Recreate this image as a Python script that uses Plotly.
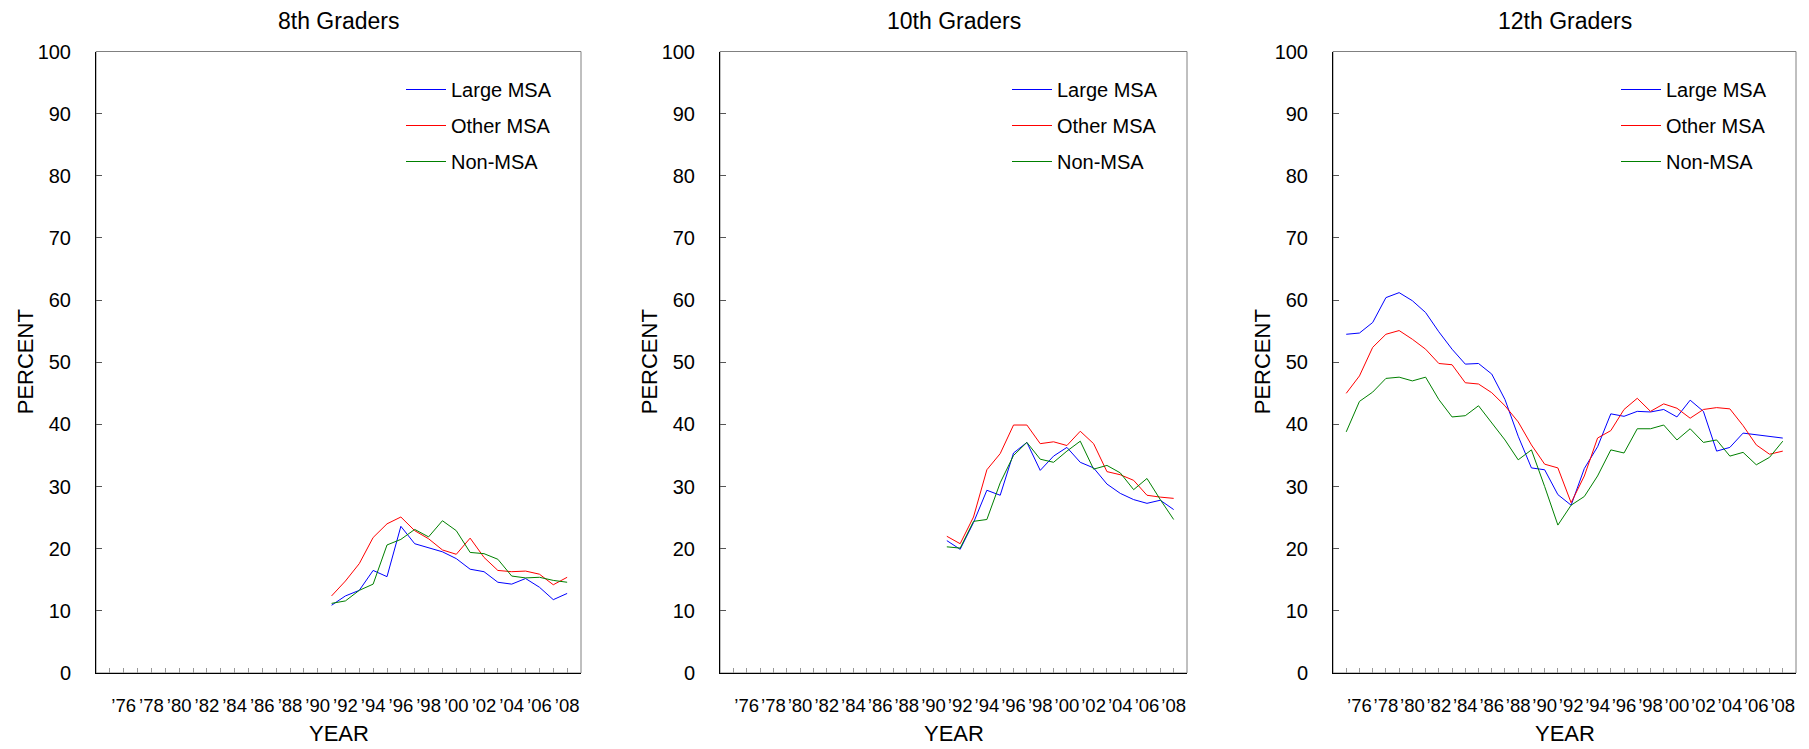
import plotly.graph_objects as go

# ---------------- data ----------------
years_8_10 = list(range(1991, 2009))
years_12 = list(range(1975, 2009))

g8_large = [10.9, 12.4, 13.3, 16.5, 15.5, 23.6, 20.8, 20.1, 19.5, 18.4, 16.7, 16.3, 14.6, 14.3, 15.2, 13.8, 11.8, 12.8]
g8_other = [12.4, 14.8, 17.6, 21.8, 24.0, 25.1, 22.9, 21.6, 19.8, 19.1, 21.7, 18.6, 16.5, 16.3, 16.4, 15.9, 14.2, 15.4]
g8_non = [11.2, 11.6, 13.3, 14.3, 20.6, 21.5, 23.1, 21.9, 24.5, 22.9, 19.4, 19.2, 18.3, 15.6, 15.3, 15.4, 14.9, 14.6]

g10_large = [21.3, 19.9, 24.2, 29.4, 28.6, 35.4, 37.1, 32.6, 34.9, 36.3, 33.9, 33.0, 30.4, 28.9, 27.9, 27.3, 27.8, 26.3]
g10_other = [22.0, 20.8, 25.1, 32.7, 35.3, 39.9, 39.9, 36.9, 37.2, 36.6, 38.9, 36.9, 32.4, 31.9, 31.0, 28.6, 28.3, 28.1]
g10_non = [20.3, 20.1, 24.4, 24.7, 30.6, 35.0, 37.1, 34.4, 33.9, 35.7, 37.3, 32.8, 33.4, 32.2, 29.5, 31.3, 27.9, 24.7]

g12_large = [54.5, 54.7, 56.4, 60.4, 61.2, 59.9, 58.0, 54.9, 52.1, 49.7, 49.8, 48.1, 44.0, 38.1,
             33.0, 32.7, 28.7, 27.0, 32.9, 36.4, 41.7, 41.3, 42.1, 42.0, 42.4, 41.2, 43.9, 42.1,
             35.7, 36.3, 38.6, 38.3, 38.0, 37.8]
g12_other = [45.0, 47.8, 52.4, 54.5, 55.1, 53.7, 52.1, 49.8, 49.6, 46.7, 46.5, 45.1, 43.0, 40.4,
             36.7, 33.6, 33.0, 27.4, 31.7, 37.8, 39.0, 42.4, 44.2, 42.1, 43.3, 42.6, 41.0, 42.4,
             42.7, 42.5, 39.8, 36.7, 35.2, 35.7]
g12_non = [38.8, 43.7, 45.2, 47.4, 47.6, 47.0, 47.6, 44.0, 41.2, 41.4, 43.0, 40.2, 37.5, 34.3,
           35.9, 30.0, 23.8, 27.0, 28.4, 31.7, 35.9, 35.4, 39.3, 39.3, 39.9, 37.5, 39.3, 37.1,
           37.5, 34.9, 35.5, 33.5, 34.7, 37.3]

panel_titles = ["8th Graders", "10th Graders", "12th Graders"]
series_names = ["Large MSA", "Other MSA", "Non-MSA"]
tick_years = list(range(1975, 2009))
tick_text = [("\u2019%02d" % (y % 100)) if y % 2 == 0 else "" for y in tick_years]

# ---------------- layout helpers ----------------
# the page body has an 8px default margin; compensate so the figure lands at the target pixels
OFF = 8
W, H = 1809 - OFF, 749 - OFF
def fx(px):
    return (px - OFF) / W
def fy(py):
    return 1 - (py - OFF) / H

colors = ["#0000FF", "#FF0000", "#008000"]
FONT = "Liberation Sans, Arial, sans-serif"

panels = [
    (years_8_10, [g8_large, g8_other, g8_non], (96, 581)),
    (years_8_10, [g10_large, g10_other, g10_non], (720, 1187)),
    (years_12, [g12_large, g12_other, g12_non], (1333, 1796)),
]
TOP, BOTTOM = 51.5, 673

fig = go.Figure()
layout = dict(
    width=W, height=H,
    margin=dict(l=0, r=0, t=0, b=0),
    paper_bgcolor="white", plot_bgcolor="white",
    showlegend=True,
    font=dict(family=FONT, color="black"),
    annotations=[], shapes=[],
)

for i, (yrs, series, (x0, x1)) in enumerate(panels):
    n = "" if i == 0 else str(i + 1)
    leg = "legend" + n
    for j, (name, vals) in enumerate(zip(series_names, series)):
        fig.add_trace(go.Scatter(
            x=yrs, y=vals, mode="lines", name=name,
            line=dict(color=colors[j], width=1),
            xaxis="x" + n, yaxis="y" + n,
            legend=leg, legendgroup=f"{i}-{j}",
            hoverinfo="x+y+name",
        ))
    layout["xaxis" + n] = dict(
        domain=[fx(x0), fx(x1)], anchor="y" + n,
        range=[1974, 2009], tickmode="array",
        tickvals=tick_years, ticktext=tick_text, tickangle=0,
        ticks="inside", ticklen=5, tickcolor="#999999", tickwidth=1,
        showline=True, linecolor="black", linewidth=1,
        showgrid=False, zeroline=False,
        tickfont=dict(size=18.5, family=FONT, color="black"),
        ticklabelstandoff=16, automargin=False,
    )
    layout["yaxis" + n] = dict(
        domain=[fy(BOTTOM), fy(TOP)], anchor="x" + n,
        range=[0, 100], tickmode="array", tickvals=list(range(0, 101, 10)),
        ticks="inside", ticklen=6, tickcolor="#555555", tickwidth=1,
        showline=True, linecolor="black", linewidth=1,
        showgrid=False, zeroline=False,
        tickfont=dict(size=20, family=FONT, color="black"),
        ticklabelstandoff=20, automargin=False,
    )
    # grey frame (top and right)
    layout["shapes"].append(dict(type="rect", xref="x" + n + " domain", yref="y" + n + " domain",
                                 x0=0, x1=1, y0=0, y1=1, line=dict(color="#808080", width=1),
                                 layer="below"))
    layout[leg] = dict(
        x=fx(x1 - 180), y=fy(70), xanchor="left", yanchor="top",
        bgcolor="rgba(0,0,0,0)", borderwidth=0,
        font=dict(size=20, family=FONT, color="black"),
        tracegroupgap=7, itemwidth=40,
    )
    cx = (x0 + x1) / 2
    layout["annotations"] += [
        dict(text=panel_titles[i], x=fx(cx), y=fy(21), xref="paper", yref="paper",
             showarrow=False, xanchor="center", yanchor="middle",
             font=dict(size=23, family=FONT, color="black")),
        dict(text="YEAR", x=fx(cx), y=fy(733), xref="paper", yref="paper",
             showarrow=False, xanchor="center", yanchor="middle",
             font=dict(size=22, family=FONT, color="black")),
        dict(text="PERCENT", x=fx(x0 - 71), y=fy((TOP + BOTTOM) / 2), xref="paper", yref="paper",
             showarrow=False, xanchor="center", yanchor="middle", textangle=-90,
             font=dict(size=22, family=FONT, color="black")),
    ]

fig.update_layout(**layout)
fig.write_html("out.html")
